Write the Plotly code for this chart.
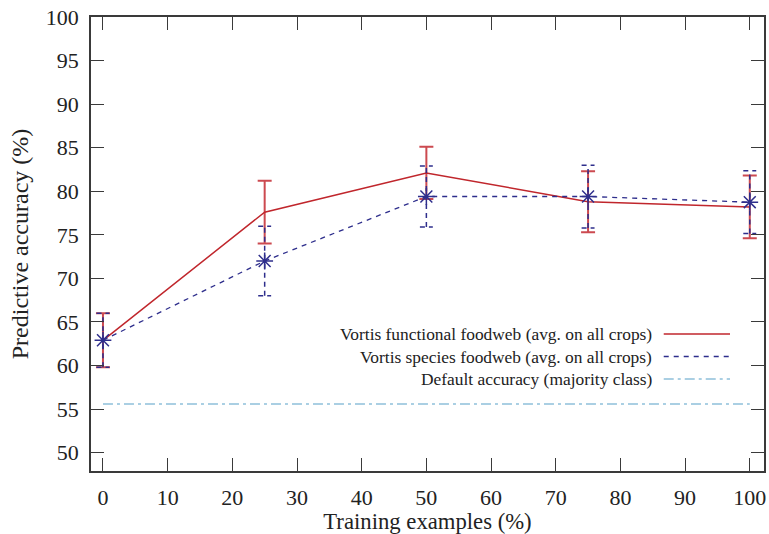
import plotly.graph_objects as go

# ---- data ----
training_pct = [0, 25, 50, 75, 100]
functional_acc = [62.9, 77.6, 82.1, 78.8, 78.2]
functional_err = [3.1, 3.6, 3.0, 3.5, 3.6]
species_acc = [62.9, 72.0, 79.4, 79.4, 78.75]
species_err = [3.1, 4.0, 3.5, 3.6, 3.6]
default_acc = 55.6

labels = [
    "Vortis functional foodweb (avg. on all crops)",
    "Vortis species foodweb (avg. on all crops)",
    "Default accuracy (majority class)",
]
x_ticks = list(range(0, 101, 10))
y_ticks = list(range(50, 101, 5))

RED = "#c0262c"
RED_ERR = "#cc4a50"
BLUE = "#2e2e8c"
LBLUE = "#8ec0da"
AX = "#3a3a3a"
FONT = "Liberation Serif, Times New Roman, serif"

fig = go.Figure()

# default accuracy line
fig.add_trace(go.Scatter(
    x=[training_pct[0], training_pct[-1]], y=[default_acc, default_acc],
    mode="lines", line=dict(color=LBLUE, width=1.5, dash="10px,4px,3px,4px"),
    showlegend=False, hoverinfo="skip"))

# functional (red) with error bars
fig.add_trace(go.Scatter(
    x=training_pct, y=functional_acc, mode="lines",
    line=dict(color=RED, width=1.5),
    error_y=dict(type="data", array=functional_err, visible=True,
                 color=RED_ERR, thickness=2, width=7),
    showlegend=False))

# species (blue) dashed error bars built from data
cap = 1.0
ex, ey = [], []
for x, y, e in zip(training_pct, species_acc, species_err):
    ex += [x, x, None, x - cap, x + cap, None, x - cap, x + cap, None]
    ey += [y - e, y + e, None, y - e, y - e, None, y + e, y + e, None]
fig.add_trace(go.Scatter(
    x=ex, y=ey, mode="lines", line=dict(color=BLUE, width=1.5, dash="5px,4px"),
    showlegend=False, hoverinfo="skip", connectgaps=False))

fig.add_trace(go.Scatter(
    x=training_pct, y=species_acc, mode="lines+markers",
    line=dict(color=BLUE, width=1.3, dash="5px,5px"),
    marker=dict(symbol="asterisk-open", size=14, line=dict(color=BLUE, width=1.5)),
    showlegend=False))

# gnuplot-style legend: text right-aligned, sample on the right
rows = [0.302, 0.252, 0.2025]
styles = [dict(color=RED, width=1.5), dict(color=BLUE, width=1.5, dash="5px,5px"),
          dict(color=LBLUE, width=1.5, dash="10px,4px,3px,4px")]
for lab, yy, st in zip(labels, rows, styles):
    fig.add_annotation(x=0.837, y=yy, xref="paper", yref="paper", text=lab,
                       showarrow=False, xanchor="right", yanchor="middle",
                       font=dict(family=FONT, size=17.4, color="#222"))
    fig.add_shape(type="line", xref="paper", yref="paper", x0=0.851, x1=0.9495,
                  y0=yy, y1=yy, line=st)

axis_common = dict(showline=True, linecolor=AX, linewidth=1.5, mirror="ticks",
                   ticks="inside", ticklen=13, tickwidth=1.2, tickcolor=AX,
                   showgrid=False, zeroline=False, automargin=False,
                   ticklabelstandoff=6,
                   tickfont=dict(family=FONT, size=22, color="#222"))

fig.update_layout(
    width=769, height=534,
    margin=dict(l=91, r=5, t=17, b=63),
    paper_bgcolor="white", plot_bgcolor="white",
    xaxis=dict(range=[-1.85, 102.2], tickvals=x_ticks,
               title=dict(text="Training examples (%)", standoff=4,
                          font=dict(family=FONT, size=22.7, color="#222")),
               **axis_common),
    yaxis=dict(range=[47.9, 100], tickvals=y_ticks,
               title=dict(text="Predictive accuracy (%)", standoff=10,
                          font=dict(family=FONT, size=24, color="#222")),
               **axis_common),
)

fig.write_html("out.html", config={"displayModeBar": False},
               post_script="document.body.style.margin='0';document.body.style.overflow='hidden';")
